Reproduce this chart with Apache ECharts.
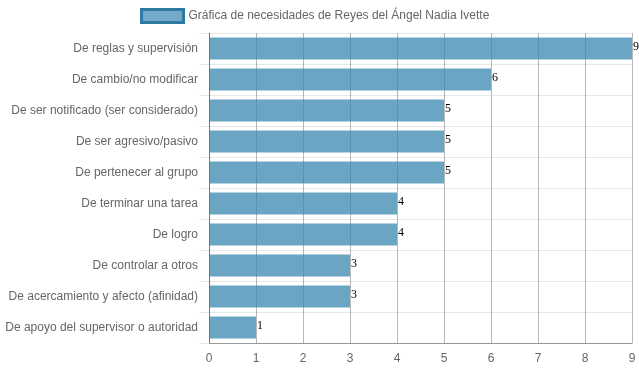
<!DOCTYPE html>
<html>
<head>
<meta charset="utf-8">
<script src="https://cdn.jsdelivr.net/npm/echarts@6/dist/echarts.min.js"></script>
<style>html,body{margin:0;padding:0;background:#fff}#c{width:639px;height:372px}</style>
</head>
<body>
<div id="c"></div>
<script>
const categories = [
  "De reglas y supervisión",
  "De cambio/no modificar",
  "De ser notificado (ser considerado)",
  "De ser agresivo/pasivo",
  "De pertenecer al grupo",
  "De terminar una tarea",
  "De logro",
  "De controlar a otros",
  "De acercamiento y afecto (afinidad)",
  "De apoyo del supervisor o autoridad"
];
const values = [9, 6, 5, 5, 5, 4, 4, 3, 3, 1];
const seriesName = "Gráfica de necesidades de Reyes del Ángel Nadia Ivette";
const xTicks = [0, 1, 2, 3, 4, 5, 6, 7, 8, 9];

const chart = echarts.init(document.getElementById('c'), null, {renderer: 'canvas'});
chart.setOption({
  animation: false,
  textStyle: {fontFamily: 'Liberation Sans, Arial, sans-serif'},
  legend: {
    top: 8,
    left: 140,
    padding: 0,
    icon: 'rect',
    itemWidth: 42,
    itemHeight: 13,
    itemGap: 6,
    textStyle: {color: '#666', fontSize: 12},
    data: [{name: seriesName, itemStyle: {color: 'rgba(100,160,195,0.9)', borderColor: '#2f7aa3', borderWidth: 3}}]
  },
  grid: {left: 209, right: 7, top: 33, bottom: 29},
  xAxis: {
    type: 'value',
    min: xTicks[0],
    max: xTicks[xTicks.length - 1],
    interval: 1,
    axisLine: {show: true, lineStyle: {color: '#999'}},
    axisTick: {show: false},
    axisLabel: {color: '#666', fontSize: 12, margin: 10},
    splitLine: {show: true, lineStyle: {color: 'rgba(0,0,0,0.28)', width: 1}}
  },
  yAxis: {
    type: 'category',
    inverse: true,
    data: categories,
    axisLine: {show: true, lineStyle: {color: 'rgba(0,0,0,0.35)'}},
    axisTick: {show: true, length: 10, lineStyle: {color: '#e8e8e8'}},
    axisLabel: {color: '#666', fontSize: 12, margin: 11},
    splitLine: {show: true, lineStyle: {color: '#e8e8e8', width: 1}}
  },
  series: [{
    name: seriesName,
    type: 'bar',
    data: values,
    barCategoryGap: '29%',
    itemStyle: {color: 'rgba(56,136,176,0.75)'},
    label: {
      show: true,
      position: 'right',
      distance: 1,
      offset: [0, -2],
      color: '#000',
      fontSize: 12,
      fontFamily: 'Liberation Serif, Times New Roman, serif'
    }
  }]
});
</script>
</body>
</html>
